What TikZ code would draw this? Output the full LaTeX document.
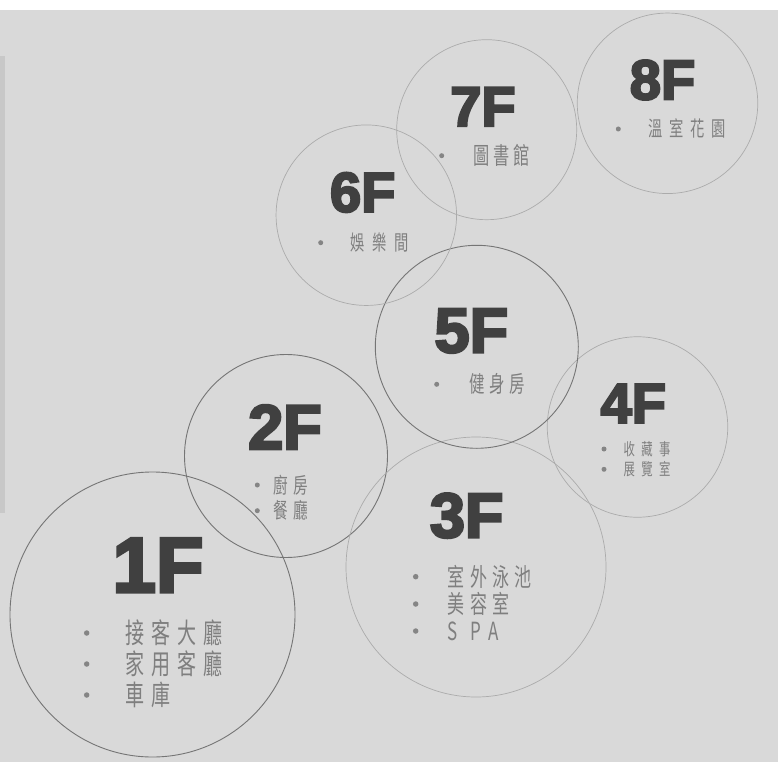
\documentclass[tikz,border=0pt]{standalone}
\usepackage{fontspec}
\newfontfamily\labelfont{Liberation Sans}[BoldFeatures={FakeBold=4}]
\newfontfamily\cjk{Noto Sans CJK TC}[FakeStretch=0.68]
\newlength\cjkgap
\newcommand\kk{\hspace{\cjkgap}}
\definecolor{bggray}{HTML}{D9D9D9}
\definecolor{bargray}{HTML}{C8C8C8}
\definecolor{labelgray}{HTML}{404040}
\definecolor{itemgray}{HTML}{7F7F7F}
\definecolor{dotgray}{HTML}{858585}
\definecolor{darkring}{HTML}{757575}
\definecolor{lightring}{HTML}{ABABAB}
\tikzset{
  ringdark/.style={circle, draw=darkring, line width=0.9pt, inner sep=0pt, minimum size=#1},
  ringlight/.style={circle, draw=lightring, line width=0.7pt, inner sep=0pt, minimum size=#1},
  flbig/.style={font=\labelfont\bfseries\fontsize{78}{78}\selectfont, text=labelgray, anchor=base, inner sep=0pt},
  flmid/.style={font=\labelfont\bfseries\fontsize{63}{63}\selectfont, text=labelgray, anchor=base, inner sep=0pt},
  flsmall/.style={font=\labelfont\bfseries\fontsize{56}{56}\selectfont, text=labelgray, anchor=base, inner sep=0pt},
  itembase/.style={text=itemgray, anchor=base west, inner sep=0pt},
  dotbig/.style={circle, fill=dotgray, inner sep=0pt, minimum size=5.5pt},
  dotsmall/.style={circle, fill=dotgray, inner sep=0pt, minimum size=5pt},
}
\begin{document}
\begin{tikzpicture}[x=1pt,y=-1pt]
\useasboundingbox (0,0) rectangle (778,762);
\fill[white] (0,0) rectangle (778,762);
\fill[bggray] (0,10) rectangle (778,762);
\fill[bargray] (0,56) rectangle (5,513);

% circles
\node[ringdark=285pt] (c1) at (152.5,614.5) {};
\node[ringdark=203pt] (c2) at (286,456) {};
\node[ringlight=260pt] (c3) at (476,567) {};
\node[ringlight=180.5pt] (c4) at (637.5,427) {};
\node[ringdark=203pt] (c5) at (476.8,346.8) {};
\node[ringlight=180.5pt] (c6) at (366.3,215.2) {};
\node[ringlight=180pt] (c7) at (486.7,129.7) {};
\node[ringlight=180.5pt] (c8) at (667.5,103.3) {};

% floor labels
\node[flbig] (l1) at (158,592) {1F};
\node[flmid] (l2) at (285,449) {2F};
\node[flmid] (l3) at (466.7,537.3) {3F};
\node[flmid] (l5) at (471.3,352.3) {5F};
\node[flsmall] (l6) at (362.7,211.7) {6F};
\node[flsmall] (l7) at (483,126) {7F};
\node[flsmall] (l8) at (662.5,99.3) {8F};
\node[flsmall] (l4) at (633.3,422.7) {4F};

% 1F items
\tikzset{i1/.style={itembase, font=\cjk\fontsize{28}{28}\selectfont\setlength\cjkgap{7.1pt}}}
\node[dotbig] (d1a) at (86.7,633) {};
\node[dotbig] (d1b) at (86.7,664) {};
\node[dotbig] (d1c) at (86.7,695) {};
\node[i1] (t1a) at (125,643.6) {接\kk 客\kk 大\kk 廳};
\node[i1] (t1b) at (125,674.6) {家\kk 用\kk 客\kk 廳};
\node[i1] (t1c) at (125,705.6) {車\kk 庫};

% 2F items
\tikzset{i2/.style={itembase, font=\cjk\fontsize{21.5}{21.5}\selectfont\setlength\cjkgap{5.4pt}}}
\node[dotsmall] (d2a) at (257.3,485) {};
\node[dotsmall] (d2b) at (257.3,510.7) {};
\node[i2] (t2a) at (273.3,493.2) {廚\kk 房};
\node[i2] (t2b) at (273.3,518.9) {餐\kk 廳};

% 3F items
\tikzset{i3/.style={itembase, font=\cjk\fontsize{25}{25}\selectfont\setlength\cjkgap{5.3pt}}}
\node[dotbig] (d3a) at (415.7,576.7) {};
\node[dotbig] (d3b) at (415.7,604) {};
\node[dotbig] (d3c) at (415.7,631) {};
\node[i3] (t3a) at (447.7,586.2) {室\kk 外\kk 泳\kk 池};
\node[i3] (t3b) at (447.7,613.5) {美\kk 容\kk 室};
\node[i3] (t3c) at (447.7,640.5) {S\hspace{12pt}P\hspace{8pt}A};

% 4F items
\tikzset{i4/.style={itembase, font=\cjk\fontsize{16.7}{16.7}\selectfont\setlength\cjkgap{6.5pt}}}
\node[dotsmall] (d4a) at (604,449) {};
\node[dotsmall] (d4b) at (604,469.3) {};
\node[i4] (t4a) at (623.3,455.3) {收\kk 藏\kk 事};
\node[i4] (t4b) at (623.3,475.6) {展\kk 覽\kk 室};

% 5F items
\tikzset{i5/.style={itembase, font=\cjk\fontsize{22.7}{22.7}\selectfont\setlength\cjkgap{4.8pt}}}
\node[dotsmall] (d5a) at (436.7,384.3) {};
\node[i5] (t5a) at (469,392.9) {健\kk 身\kk 房};

% 6F items
\tikzset{i6/.style={itembase, font=\cjk\fontsize{21}{21}\selectfont\setlength\cjkgap{7.7pt}}}
\node[dotsmall] (d6a) at (320.7,242.7) {};
\node[i6] (t6a) at (350,250.7) {娛\kk 樂\kk 間};

% 7F items
\tikzset{i7/.style={itembase, font=\cjk\fontsize{23.8}{23.8}\selectfont\setlength\cjkgap{3.8pt}}}
\node[dotsmall] (d7a) at (441.7,155.7) {};
\node[i7] (t7a) at (473.3,164.7) {圖\kk 書\kk 館};

% 8F items
\tikzset{i8/.style={itembase, font=\cjk\fontsize{21}{21}\selectfont\setlength\cjkgap{6.7pt}}}
\node[dotsmall] (d8a) at (618.3,129) {};
\node[i8] (t8a) at (648.3,137) {溫\kk 室\kk 花\kk 園};
\end{tikzpicture}
\end{document}
